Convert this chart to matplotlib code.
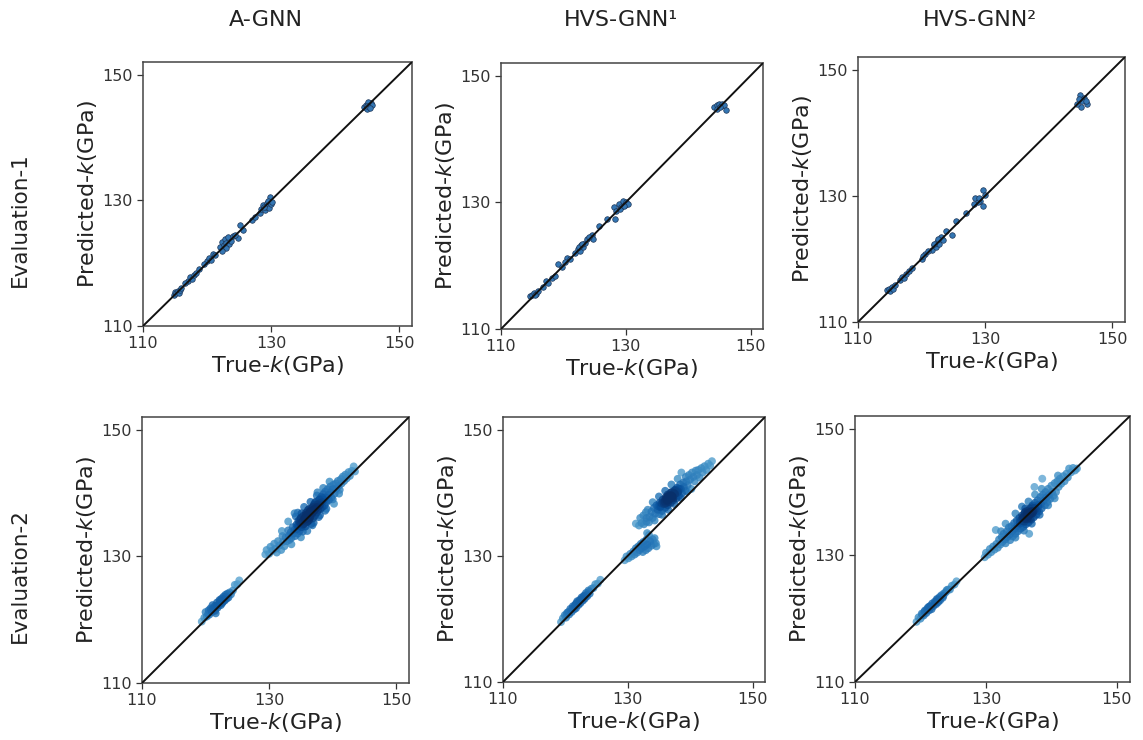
import numpy as np
import matplotlib.pyplot as plt

# ---- datos (True-k, Predicted-k en GPa) ----
col_titles = ['A-GNN', 'HVS-GNN¹', 'HVS-GNN²']
row_titles = ['Evaluation-1', 'Evaluation-2']
ticks = [110, 130, 150]

# Evaluation-1, A-GNN
e1_agnn_x = [144.5, 144.8, 145.0, 145.2, 145.4, 145.6, 145.8, 145.1, 144.9, 145.5,
             128.2, 128.5, 128.8, 129.0, 129.2, 129.4, 129.6, 129.8, 129.5, 130.0, 130.1, 128.9,
             125.2, 124.9, 127.0, 127.5, 125.6,
             122.0, 122.3, 122.6, 122.8, 123.0, 123.2, 123.5, 123.0, 122.4, 123.7, 124.0, 124.3,
             120.0, 120.3, 120.6, 121.0, 121.3, 119.6,
             117.0, 117.4, 117.7, 118.0, 118.3, 118.8, 116.6,
             114.8, 115.0, 115.2, 115.4, 115.6, 115.8, 116.0]
e1_agnn_y = [144.8, 145.2, 144.6, 145.3, 145.0, 145.4, 145.1, 145.6, 145.0, 144.7,
             127.9, 128.6, 129.3, 128.4, 129.0, 129.6, 128.7, 130.5, 129.9, 129.4, 129.8, 128.9,
             126.1, 124.0, 126.9, 127.4, 125.2,
             122.5, 123.4, 122.9, 123.8, 123.2, 124.1, 123.0, 122.4, 122.0, 123.6, 124.3, 124.5,
             120.3, 120.8, 120.5, 121.4, 121.3, 119.9,
             117.2, 117.8, 117.5, 118.1, 118.4, 119.0, 116.9,
             115.0, 115.4, 115.2, 115.6, 115.3, 115.8, 116.0]

# Evaluation-1, HVS-GNN1
e1_hvs1_x = [144.2, 144.6, 144.9, 145.2, 145.5, 145.8, 146.0, 144.7, 145.1,
             128.1, 128.5, 128.9, 129.2, 129.5, 129.8, 130.1, 130.3, 128.2, 129.0, 129.7,
             127.0, 125.7, 124.6, 124.8,
             121.9, 122.3, 122.6, 122.9, 123.2, 123.5, 123.8, 124.1, 122.5, 123.0,
             119.2, 119.8, 120.6, 120.2, 121.0,
             116.8, 117.2, 117.6, 118.2, 118.6,
             114.7, 115.0, 115.3, 115.6, 116.0, 115.4]
e1_hvs1_y = [145.0, 145.3, 145.6, 145.2, 145.6, 145.4, 144.5, 144.8, 145.0,
             129.2, 128.7, 129.7, 129.3, 130.2, 129.6, 130.0, 129.8, 127.3, 129.0, 129.4,
             127.4, 126.2, 124.9, 124.2,
             122.0, 122.6, 122.3, 123.2, 123.0, 123.6, 124.2, 124.6, 122.9, 123.4,
             120.2, 119.8, 121.2, 120.6, 121.0,
             116.7, 117.5, 117.3, 118.0, 118.4,
             115.2, 115.4, 115.7, 115.5, 116.0, 115.3]

# Evaluation-1, HVS-GNN2
e1_hvs2_x = [144.9, 145.1, 146.0, 144.4, 145.5, 145.3, 144.7, 145.8,
             129.7, 128.4, 129.6, 129.2, 128.8, 128.2, 129.9, 129.0,
             127.0, 125.4, 124.8, 123.8,
             121.6, 121.9, 122.2, 122.5, 122.8, 123.1, 123.4, 122.0, 122.6,
             120.0, 120.5, 121.0, 120.3,
             116.6, 117.0, 117.3, 117.6, 118.0, 118.5,
             114.5, 114.8, 115.0, 115.3, 115.5, 115.8]
e1_hvs2_y = [145.9, 144.1, 144.5, 144.6, 145.5, 145.1, 145.3, 145.0,
             130.9, 129.6, 128.4, 129.2, 129.0, 128.7, 130.2, 129.7,
             127.2, 126.0, 123.8, 124.4,
             121.4, 122.2, 121.9, 122.7, 122.4, 123.5, 123.0, 122.4, 123.1,
             120.0, 120.7, 121.2, 120.5,
             116.6, 117.1, 116.9, 117.6, 118.1, 118.6,
             115.0, 115.2, 114.9, 115.6, 115.3, 115.8]

# Evaluation-2, A-GNN
e2_agnn_x = [129.4, 129.6, 130.0, 130.2, 130.5, 130.8, 131.0, 131.2, 131.4, 131.6, 131.9,
             132.1, 132.2, 132.4, 132.6, 132.8, 133.0, 133.1, 133.2, 133.4, 133.5, 133.7,
             133.8, 134.0, 134.0, 134.1, 134.3, 134.4, 134.5, 134.6, 134.7, 134.8, 134.9,
             135.0, 135.1, 135.2, 135.3, 135.4, 135.5, 135.6, 135.7, 135.8, 135.9, 136.0,
             136.1, 136.2, 136.3, 136.4, 136.5, 136.6, 136.7, 136.8, 136.9, 137.0, 137.1,
             137.2, 137.3, 137.4, 137.5, 137.6, 137.7, 137.8, 137.9, 138.0, 138.1, 138.2,
             138.3, 138.4, 138.5, 138.6, 138.7, 138.8, 138.9, 139.0, 139.2, 139.3, 139.4,
             139.6, 139.7, 139.8, 140.0, 140.2, 140.1, 140.3, 140.5, 140.6, 140.8, 140.9,
             141.1, 141.3, 141.4, 141.6, 141.8, 142.0, 142.2, 142.5, 142.7, 143.0, 143.3, 143.5,
             135.0, 135.5, 136.0, 136.5, 137.0, 137.5, 134.5, 136.2, 136.8, 135.7, 137.3,
             138.0, 134.8, 136.4, 137.8,
             133.0, 134.5, 135.5, 136.5, 137.5, 138.5, 135.0, 136.0, 137.0, 138.0, 139.0,
             140.0, 132.0, 133.5, 139.5, 141.0, 134.2, 136.8, 137.6, 138.8,
             135.8, 136.3, 136.9, 135.3, 136.1, 137.2, 134.9, 137.9, 138.4, 135.1,
             119.4, 119.8, 120.0, 120.2, 120.5, 120.6, 120.8, 121.0, 121.1, 121.3, 121.5,
             121.6, 121.8, 121.9, 122.1, 122.2, 122.4, 122.5, 122.7, 122.8, 123.0, 123.1,
             123.3, 123.4, 123.6, 123.8, 124.0, 124.3, 124.6, 125.0, 125.3,
             120.4, 121.2, 121.8, 122.3, 122.9, 123.5, 121.5, 122.6, 120.9, 123.2]
e2_agnn_y = [130.3, 131.0, 130.4, 131.5, 130.9, 132.0, 131.2, 130.6, 132.4, 131.7, 131.0,
             133.2, 132.3, 131.6, 133.0, 132.4, 134.1, 133.3, 132.6, 133.8, 132.9, 134.6,
             133.6, 136.8, 134.2, 133.2, 135.0, 134.3, 133.6, 135.6, 134.8, 134.0, 135.2,
             136.1, 134.6, 135.5, 133.9, 136.4, 135.1, 135.8, 134.7, 136.9, 136.1, 135.4,
             137.3, 136.5, 135.7, 137.0, 136.2, 135.1, 137.6, 136.8, 136.0, 138.1, 137.2,
             136.4, 138.6, 137.7, 136.9, 138.2, 137.3, 136.2, 139.0, 138.1, 137.5, 139.4,
             138.6, 137.8, 139.8, 138.9, 138.0, 140.2, 139.3, 138.5, 140.6, 139.7, 138.9,
             141.0, 140.1, 139.3, 140.6, 138.3, 141.3, 139.9, 141.5, 140.7, 141.9, 141.1,
             140.5, 142.2, 141.5, 142.6, 141.9, 142.9, 142.3, 143.3, 142.7, 143.5, 144.2, 143.4,
             135.3, 136.0, 136.4, 136.7, 137.4, 137.8, 134.8, 136.0, 137.2, 135.9, 137.5,
             138.4, 135.4, 137.1, 137.9,
             135.5, 136.9, 137.8, 138.6, 139.6, 140.8, 133.0, 134.0, 135.3, 136.5, 137.5,
             139.0, 134.0, 131.9, 141.8, 139.9, 136.3, 134.9, 140.1, 137.2,
             136.6, 137.5, 137.8, 135.0, 135.6, 138.4, 135.9, 138.9, 139.2, 136.8,
             119.7, 120.3, 121.2, 120.5, 121.5, 120.8, 121.8, 121.2, 122.3, 121.5, 122.2,
             121.0, 122.7, 121.9, 122.4, 123.1, 122.3, 123.3, 122.8, 123.6, 123.0, 123.9,
             123.3, 124.1, 123.5, 124.3, 124.0, 124.6, 125.5, 125.6, 126.2,
             120.9, 121.8, 122.2, 122.9, 123.2, 124.0, 121.4, 122.6, 121.5, 123.6]

# Evaluation-2, HVS-GNN1
e2_hvs1_x = [131.3, 131.8, 132.2, 132.6, 133.0, 133.4, 132.0, 132.5, 132.9, 133.2, 133.5,
             133.8, 134.0, 134.2, 134.4, 134.6, 134.8, 135.0, 135.1, 135.3, 135.5, 135.6,
             135.8, 136.0, 136.1, 136.3, 136.4, 136.6, 136.7, 136.9, 137.0, 137.2, 137.3,
             137.5, 137.6, 137.8, 137.9, 138.1, 138.2, 138.4, 138.5, 138.7, 138.6, 138.9,
             139.0, 139.2, 139.3, 139.4, 139.6, 139.8, 140.0, 140.2, 140.3, 140.5, 140.7,
             140.9, 141.1, 141.3, 141.5, 141.8, 142.0, 142.3, 142.6, 142.9, 143.2, 143.5,
             135.4, 136.2, 136.8, 137.4, 136.5, 135.9, 137.1, 137.7, 136.0, 136.6, 137.0,
             138.0, 135.2, 134.9,
             134.0, 135.0, 136.0, 137.0, 138.0, 135.5, 136.5, 137.5, 138.5, 139.5, 134.3, 133.0,
             136.3, 136.9, 137.3, 135.7, 136.1, 137.6, 138.2, 136.4,
             129.5, 129.8, 130.1, 130.4, 130.6, 130.9, 131.1, 131.3, 131.5, 131.7, 131.9,
             132.1, 132.2, 132.4, 132.5, 132.7, 132.9, 133.0, 133.1, 133.3, 133.4, 133.6,
             133.8, 133.1, 134.0, 134.2, 134.5, 134.6, 134.3,
             119.3, 119.6, 119.9, 120.1, 120.3, 120.6, 120.8, 121.0, 121.2, 121.4, 121.6,
             121.7, 121.9, 122.1, 122.3, 122.4, 122.6, 122.8, 123.0, 123.1, 123.3, 123.5,
             123.7, 123.9, 124.2, 124.5, 124.8, 125.2, 125.6,
             120.5, 121.1, 121.8, 122.2, 122.9, 123.4, 121.5, 122.7, 120.2, 123.8]
e2_hvs1_y = [135.1, 134.8, 135.2, 135.0, 135.4, 135.3, 136.0, 136.4, 136.9, 137.3, 136.2,
             137.0, 136.0, 137.6, 136.7, 138.0, 137.3, 136.6, 138.4, 137.8, 137.1, 138.9,
             138.2, 137.6, 139.3, 138.7, 138.0, 139.6, 139.0, 138.4, 140.1, 139.4, 138.8,
             140.4, 139.8, 139.1, 140.8, 140.2, 139.5, 141.3, 140.6, 139.9, 143.2, 141.6,
             140.9, 140.3, 142.5, 141.8, 141.2, 142.8, 142.1, 140.6, 143.2, 142.5, 141.8,
             143.5, 142.8, 143.6, 142.4, 143.9, 143.2, 144.2, 143.6, 144.6, 144.3, 145.0,
             138.3, 139.0, 139.5, 140.0, 138.5, 138.6, 139.2, 140.5, 138.9, 138.9, 139.6,
             140.0, 137.7, 137.8,
             138.5, 139.4, 140.3, 141.3, 142.2, 136.5, 137.3, 138.2, 139.2, 140.2, 135.6, 136.0,
             139.3, 140.0, 139.1, 138.5, 138.3, 140.3, 140.6, 139.7,
             129.3, 129.9, 129.6, 130.3, 129.9, 130.7, 130.2, 131.2, 130.5, 131.5, 130.9,
             131.9, 131.2, 130.6, 132.2, 131.5, 130.9, 132.6, 131.8, 131.2, 133.3, 132.3,
             131.6, 133.6, 132.6, 131.9, 132.0, 131.5, 132.8,
             119.5, 120.1, 120.6, 120.2, 121.0, 120.7, 121.6, 121.1, 122.0, 121.5, 122.3,
             121.7, 122.8, 122.2, 123.0, 122.5, 123.4, 122.9, 123.7, 123.2, 124.1, 123.6,
             124.5, 124.0, 124.8, 124.9, 125.5, 125.6, 126.2,
             121.1, 121.6, 122.5, 122.7, 123.5, 123.8, 122.0, 123.2, 120.7, 124.3]

# Evaluation-2, HVS-GNN2
e2_hvs2_x = [129.8, 130.0, 130.3, 130.6, 130.8, 131.1, 131.3, 131.5, 131.6, 131.8, 132.0,
             132.2, 132.4, 132.5, 132.7, 132.9, 133.0, 133.2, 133.3, 133.5, 133.6, 133.7,
             133.9, 134.0, 134.1, 134.3, 134.4, 134.5, 134.7, 134.8, 134.9, 135.1, 135.2,
             135.3, 135.5, 135.6, 135.7, 135.9, 136.0, 136.1, 136.3, 136.4, 136.6, 136.5,
             136.7, 136.8, 136.9, 137.1, 137.2, 137.4, 137.3, 137.5, 137.6, 137.7, 137.9,
             138.0, 138.1, 138.3, 138.4, 138.5, 138.6, 138.7, 138.8, 139.0, 139.1, 139.2,
             139.4, 139.5, 139.6, 139.8, 140.0, 140.1, 140.3, 140.5, 140.7, 140.9, 141.1,
             141.3, 141.5, 141.8, 142.0, 142.3, 142.5, 142.7, 143.0, 143.3, 143.6, 143.9,
             135.4, 135.8, 136.2, 136.6, 137.0, 136.4, 135.9, 136.8, 137.4, 135.6, 136.3, 137.1,
             133.0, 134.5, 135.5, 136.5, 137.5, 138.5, 134.5, 135.8, 137.0, 138.2, 139.5,
             140.5, 132.3, 141.0, 136.0, 137.8,
             135.7, 136.5, 137.3, 135.2, 136.0, 137.0, 138.0, 136.7,
             119.4, 119.7, 120.0, 120.2, 120.5, 120.7, 120.9, 121.1, 121.3, 121.5, 121.7,
             121.8, 122.0, 122.2, 122.4, 122.5, 122.7, 122.9, 123.0, 123.2, 123.4, 123.6,
             123.9, 124.2, 124.5, 124.8, 125.2, 125.5,
             120.3, 121.0, 121.6, 122.3, 122.8, 123.5, 121.3, 122.6, 120.6, 124.0]
e2_hvs2_y = [129.7, 130.4, 130.1, 131.0, 130.5, 131.4, 130.9, 134.0, 131.8, 131.2, 132.5,
             131.7, 132.9, 132.1, 133.4, 132.5, 131.9, 133.8, 132.9, 134.4, 133.3, 132.4,
             134.6, 133.8, 133.0, 135.1, 134.2, 133.4, 135.5, 134.6, 133.8, 135.9, 135.0,
             134.2, 136.3, 135.4, 134.5, 136.7, 135.7, 134.9, 137.0, 136.1, 133.4, 135.2,
             137.4, 136.5, 135.6, 137.9, 136.9, 140.8, 136.0, 138.3, 137.3, 136.4, 138.7,
             137.7, 136.9, 139.2, 138.1, 137.4, 142.1, 139.6, 138.6, 137.9, 140.0, 139.1,
             138.4, 140.5, 139.5, 138.9, 141.0, 140.0, 139.4, 141.4, 140.0, 141.7, 140.8,
             142.1, 141.3, 142.5, 141.7, 142.9, 142.3, 143.7, 143.1, 143.8, 143.4, 143.7,
             135.6, 136.0, 136.3, 136.6, 137.0, 135.8, 135.3, 136.9, 137.5, 135.9, 136.7, 136.6,
             135.0, 136.6, 137.7, 138.5, 139.6, 140.5, 132.8, 133.9, 135.0, 136.4, 137.9,
             139.0, 133.8, 142.6, 137.4, 137.0,
             136.1, 136.3, 137.0, 135.3, 136.9, 137.6, 138.0, 135.7,
             119.5, 120.2, 120.0, 120.8, 120.5, 121.3, 120.9, 121.7, 121.3, 122.0, 121.5,
             122.4, 122.0, 122.7, 122.3, 123.1, 122.6, 123.4, 122.9, 123.7, 123.3, 124.0,
             124.2, 124.6, 124.6, 125.2, 125.4, 125.9,
             120.6, 121.4, 121.8, 122.5, 123.0, 123.6, 121.9, 123.0, 121.1, 124.5]

top_data = [(e1_agnn_x, e1_agnn_y), (e1_hvs1_x, e1_hvs1_y), (e1_hvs2_x, e1_hvs2_y)]
bot_data = [(e2_agnn_x, e2_agnn_y), (e2_hvs1_x, e2_hvs1_y), (e2_hvs2_x, e2_hvs2_y)]

# posiciones de los ejes en pixeles (izq, der, arriba, abajo)
W, H = 1143, 740
boxes = [[(143, 412, 62, 326), (501, 763, 63, 329), (858, 1125, 57, 322)],
         [(142, 409, 417, 683), (503, 765, 417, 682), (855, 1130, 416, 682)]]
row_y = [220, 576]

plt.rcParams['font.family'] = 'DejaVu Sans'
plt.rcParams['mathtext.fontset'] = 'dejavusans'

fig = plt.figure(figsize=(W / 100, H / 100), dpi=100)


def densidad(x, y, h=0.9):
    # densidad tipo kernel para colorear los puntos
    x = np.asarray(x)
    y = np.asarray(y)
    d2 = (x[:, None] - x[None, :]) ** 2 + (y[:, None] - y[None, :]) ** 2
    return np.exp(-d2 / (2 * h * h)).sum(axis=1)


def formato(ax):
    ax.plot([110, 153], [110, 153], color='#111111', lw=1.4, zorder=3)
    ax.set_xlim(110, 152)
    ax.set_ylim(110, 152)
    ax.set_xticks(ticks)
    ax.set_yticks(ticks)
    ax.tick_params(labelsize=11.5, colors='#333333', length=4, width=0.9)
    for s in ax.spines.values():
        s.set_color('#444444')
        s.set_linewidth(1.1)
    ax.set_xlabel('True-$k$(GPa)', fontsize=16, color='#222222', labelpad=2)
    ax.set_ylabel('Predicted-$k$(GPa)', fontsize=16, color='#222222', labelpad=2)


for r in range(2):
    for c in range(3):
        l, rr, t, b = boxes[r][c]
        ax = fig.add_axes([l / W, 1 - b / H, (rr - l) / W, (b - t) / H])
        if r == 0:
            x, y = top_data[c]
            ax.scatter(x, y, s=16, color='#3476b3', edgecolors='#1d3557',
                       linewidths=0.5, zorder=2)
        else:
            x, y = bot_data[c]
            dens = densidad(x, y)
            dens = dens / dens.max()
            orden = np.argsort(dens)
            xs = np.asarray(x)[orden]
            ys = np.asarray(y)[orden]
            colores = plt.cm.Blues(0.45 + 0.57 * dens[orden] ** 0.8)
            ax.scatter(xs, ys, s=32, c=colores, alpha=0.82, edgecolors='none', zorder=2)
        formato(ax)

# titulos de columnas y filas
for c in range(3):
    l, rr, t, b = boxes[0][c]
    fig.text((l + rr) / 2 / W - 0.01, 1 - 20 / H, col_titles[c], ha='center', va='center',
             fontsize=16, color='#222222')
for r in range(2):
    fig.text(20 / W, 1 - row_y[r] / H, row_titles[r], rotation=90, ha='center', va='center',
             fontsize=15.5, color='#222222')

fig.savefig('out.png', dpi=100)
